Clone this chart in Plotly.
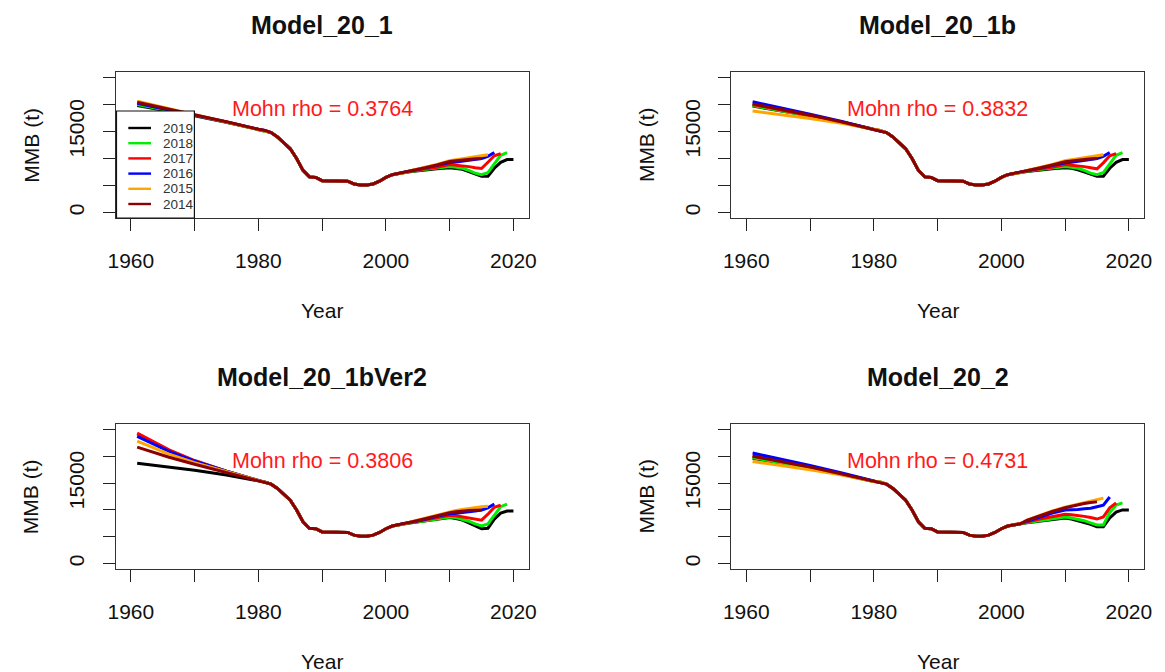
import plotly.graph_objects as go

# ---------------- data ----------------
RUN_LABELS = ["2019", "2018", "2017", "2016", "2015", "2014"]
RUN_COLORS = ["black", "#00EE00", "#FF0000", "#0000FF", "#FFA500", "#8B0000"]
RUN_END_YEAR = [2020, 2019, 2018, 2017, 2016, 2015]

PANEL_TITLES = ["Model_20_1", "Model_20_1b", "Model_20_1bVer2", "Model_20_2"]
MOHN_RHO = ["0.3764", "0.3832", "0.3806", "0.4731"]

EARLY_YEARS = [1961, 1963, 1966, 1970, 1975, 1980]
MID_YEARS = [1981, 1982, 1983, 1984, 1985, 1986, 1987, 1988, 1989, 1990, 1991, 1992,
             1993, 1994, 1995, 1996, 1997, 1998, 1999, 2000, 2001, 2002, 2003]
MID_MMB = [15200, 14800, 14000, 12900, 11800, 10000, 7800, 6600, 6500, 5900, 5850, 5850,
           5850, 5800, 5300, 5100, 5100, 5300, 5800, 6500, 7000, 7250, 7400]
LATE_YEARS = [2004, 2006, 2008, 2010, 2011, 2012, 2013, 2014, 2015, 2016, 2017, 2018, 2019, 2020]

# early years, one list per run (2019..2014)
EARLY_M20_1 = [
    [19800, 19400, 18800, 17900, 16700, 15400],
    [20000, 19550, 18900, 17950, 16700, 15400],
    [20300, 19800, 19100, 18050, 16750, 15400],
    [20200, 19700, 19050, 18000, 16750, 15400],
    [20600, 20050, 19250, 18150, 16800, 15400],
    [20400, 19900, 19150, 18100, 16800, 15400],
]
EARLY_M20_1B = [
    [19700, 19300, 18700, 17900, 16700, 15400],
    [19800, 19350, 18750, 17900, 16700, 15400],
    [20000, 19550, 18900, 18000, 16750, 15400],
    [20500, 20000, 19300, 18200, 16850, 15400],
    [18800, 18500, 18000, 17400, 16500, 15400],
    [20100, 19650, 19000, 18050, 16750, 15400],
]
EARLY_M20_1BVER2 = [
    [18700, 18400, 18000, 17400, 16500, 15400],
    [24000, 22900, 21100, 19150, 17200, 15500],
    [24300, 23100, 21200, 19200, 17200, 15500],
    [23700, 22600, 20900, 19100, 17200, 15500],
    [22800, 21800, 20400, 18800, 17100, 15500],
    [21700, 20900, 19800, 18500, 17000, 15500],
]
EARLY_M20_2 = [
    [19600, 19200, 18600, 17800, 16600, 15300],
    [19700, 19300, 18700, 17850, 16650, 15300],
    [20100, 19650, 19000, 18050, 16750, 15400],
    [20600, 20100, 19400, 18300, 16900, 15400],
    [19000, 18700, 18200, 17500, 16500, 15300],
    [20000, 19550, 18900, 18000, 16700, 15400],
]

# late years, one list per run (each ends at that run's last year)
LATE_M20_1 = [
    [7600, 7900, 8100, 8300, 8200, 8000, 7600, 7200, 6700, 6700, 8200, 9300, 9800, 9800],
    [7650, 7950, 8200, 8500, 8400, 8200, 7800, 7300, 7000, 7400, 9000, 10600, 11100],
    [7700, 8050, 8400, 8900, 8800, 8700, 8500, 8300, 8150, 9300, 10500, 10900],
    [7750, 8150, 8700, 9250, 9350, 9500, 9700, 9800, 10000, 10400, 11100],
    [7800, 8300, 8900, 9600, 9800, 10000, 10200, 10400, 10600, 10700],
    [7750, 8250, 8800, 9450, 9600, 9750, 9850, 9950, 10000],
]
LATE_M20_1B = [
    [7600, 7900, 8100, 8300, 8200, 7900, 7500, 7100, 6700, 6700, 8200, 9300, 9800, 9800],
    [7650, 7950, 8200, 8500, 8400, 8200, 7800, 7300, 7000, 7400, 9000, 10600, 11100],
    [7700, 8050, 8400, 8900, 8800, 8700, 8500, 8300, 8100, 9200, 10500, 10900],
    [7750, 8150, 8700, 9200, 9300, 9450, 9650, 9800, 10000, 10400, 11100],
    [7800, 8300, 8900, 9600, 9800, 10000, 10200, 10400, 10600, 10700],
    [7750, 8250, 8800, 9400, 9550, 9700, 9850, 9950, 10000],
]
LATE_M20_1BVER2 = [
    [7600, 7900, 8200, 8600, 8400, 8100, 7600, 7100, 6500, 6600, 8300, 9400, 9800, 9800],
    [7650, 7950, 8300, 8700, 8600, 8300, 7900, 7400, 7000, 7400, 9100, 10600, 11100],
    [7700, 8100, 8500, 9000, 8900, 8700, 8500, 8300, 8100, 9200, 10500, 10900],
    [7750, 8200, 8800, 9300, 9400, 9500, 9700, 9800, 10000, 10400, 11100],
    [7800, 8400, 9000, 9700, 9900, 10100, 10300, 10500, 10600, 10700],
    [7750, 8300, 8900, 9500, 9650, 9800, 9900, 9950, 10000],
]
LATE_M20_2 = [
    [7600, 7900, 8200, 8500, 8300, 8000, 7700, 7300, 6850, 6850, 8500, 9600, 10000, 10000],
    [7650, 8000, 8400, 8700, 8500, 8300, 8000, 7600, 7200, 7200, 9500, 10900, 11300],
    [7750, 8300, 8800, 9200, 9100, 9000, 8800, 8600, 8300, 8700, 10400, 11300],
    [7900, 8700, 9400, 10000, 10000, 10100, 10200, 10300, 10600, 10900, 12400],
    [8100, 9000, 9800, 10500, 10800, 11100, 11400, 11700, 12000, 12200],
    [8050, 8900, 9700, 10400, 10700, 11000, 11200, 11400, 11500],
]

PANEL_EARLY = [EARLY_M20_1, EARLY_M20_1B, EARLY_M20_1BVER2, EARLY_M20_2]
PANEL_LATE = [LATE_M20_1, LATE_M20_1B, LATE_M20_1BVER2, LATE_M20_2]

Y_TICKS = [0, 5000, 10000, 15000, 20000, 25000]
Y_TICKTEXT = ["0", "", "", "15000", "", ""]
X_TICKS = [1960, 1970, 1980, 1990, 2000, 2010, 2020]
X_TICKTEXT = ["1960", "", "1980", "", "2000", "", "2020"]

# ---------------- layout geometry (pixels) ----------------
W, H = 1165, 672
FONT = "Arial, Liberation Sans, sans-serif"
BOX_X = [(109, 528), (733, 1152), (109, 528), (733, 1152)]
BOX_Y = [(72, 218), (72, 218), (424, 569), (424, 569)]


def px(x):
    return x / W


def py(y):
    return 1 - y / H


fig = go.Figure()
annotations = []
shapes = []

for p in range(4):
    idx = "" if p == 0 else str(p + 1)
    xa, ya = "x" + idx, "y" + idx
    for r in range(6):
        xs = EARLY_YEARS + MID_YEARS + LATE_YEARS[:len(PANEL_LATE[p][r])]
        ys = PANEL_EARLY[p][r] + MID_MMB + PANEL_LATE[p][r]
        fig.add_trace(go.Scatter(
            x=xs, y=ys, mode="lines", name=RUN_LABELS[r],
            line=dict(color=RUN_COLORS[r], width=3),
            xaxis=xa, yaxis=ya, showlegend=False,
        ))
    x0, x1 = BOX_X[p]
    y0, y1 = BOX_Y[p]
    axis_common = dict(showline=True, mirror=True, linecolor="#333333", linewidth=1,
                       showgrid=False, zeroline=False, ticks="outside", ticklen=12,
                       tickcolor="#222222", tickwidth=1,
                       tickfont=dict(family=FONT, size=21, color="#111111"))
    fig.layout["xaxis" + idx] = dict(
        domain=[px(x0), px(x1)], anchor=ya, range=[1957.6, 2022.4],
        tickvals=X_TICKS, ticktext=X_TICKTEXT, ticklabelstandoff=12, **axis_common)
    fig.layout["yaxis" + idx] = dict(
        domain=[py(y1), py(y0)], anchor=xa, range=[-1000, 26000],
        tickvals=Y_TICKS, ticktext=Y_TICKTEXT, tickangle=-90, ticklabelstandoff=10,
        **axis_common)
    cx = (x0 + x1) / 2
    annotations.append(dict(text="<b>" + PANEL_TITLES[p] + "</b>", xref="paper", yref="paper",
                            x=px(cx), y=py(y0 - 47), showarrow=False,
                            font=dict(family=FONT, size=25, color="#111111"),
                            xanchor="center", yanchor="middle"))
    annotations.append(dict(text="Mohn rho = " + MOHN_RHO[p], xref="paper", yref="paper",
                            x=px(cx), y=py(y0 + 37), showarrow=False,
                            font=dict(family=FONT, size=21.5, color="#FF1A1A"),
                            xanchor="center", yanchor="middle"))
    annotations.append(dict(text="Year", xref="paper", yref="paper",
                            x=px(cx), y=py(y1 + 92), showarrow=False,
                            font=dict(family=FONT, size=21, color="#111111"),
                            xanchor="center", yanchor="middle"))
    annotations.append(dict(text="MMB (t)", xref="paper", yref="paper",
                            x=px(x0 - 86), y=py((y0 + y1) / 2), showarrow=False,
                            textangle=-90,
                            font=dict(family=FONT, size=21, color="#111111"),
                            xanchor="center", yanchor="middle"))

# manual legend in first panel (R-style)
LEG_X0, LEG_X1, LEG_Y0, LEG_Y1 = 110, 189, 111, 218
shapes.append(dict(type="rect", xref="paper", yref="paper",
                   x0=px(LEG_X0), x1=px(LEG_X1), y0=py(LEG_Y1), y1=py(LEG_Y0),
                   line=dict(color="#111111", width=1.2), fillcolor="white", layer="above"))
for r in range(6):
    yy = 128 + r * 15.2
    shapes.append(dict(type="line", xref="paper", yref="paper",
                       x0=px(122), x1=px(145), y0=py(yy), y1=py(yy),
                       line=dict(color=RUN_COLORS[r], width=2.4), layer="above"))
    annotations.append(dict(text=RUN_LABELS[r], xref="paper", yref="paper",
                            x=px(155), y=py(yy), showarrow=False,
                            font=dict(family=FONT, size=13.5, color="#333333"),
                            xanchor="left", yanchor="middle"))

fig.update_layout(
    width=W, height=H, margin=dict(l=0, r=0, t=0, b=0),
    paper_bgcolor="white", plot_bgcolor="white",
    annotations=annotations, shapes=shapes, showlegend=False,
)

fig.write_html("out.html",
               config={"displayModeBar": False, "staticPlot": True},
               post_script="document.body.style.margin='0';document.body.style.overflow='hidden';")
